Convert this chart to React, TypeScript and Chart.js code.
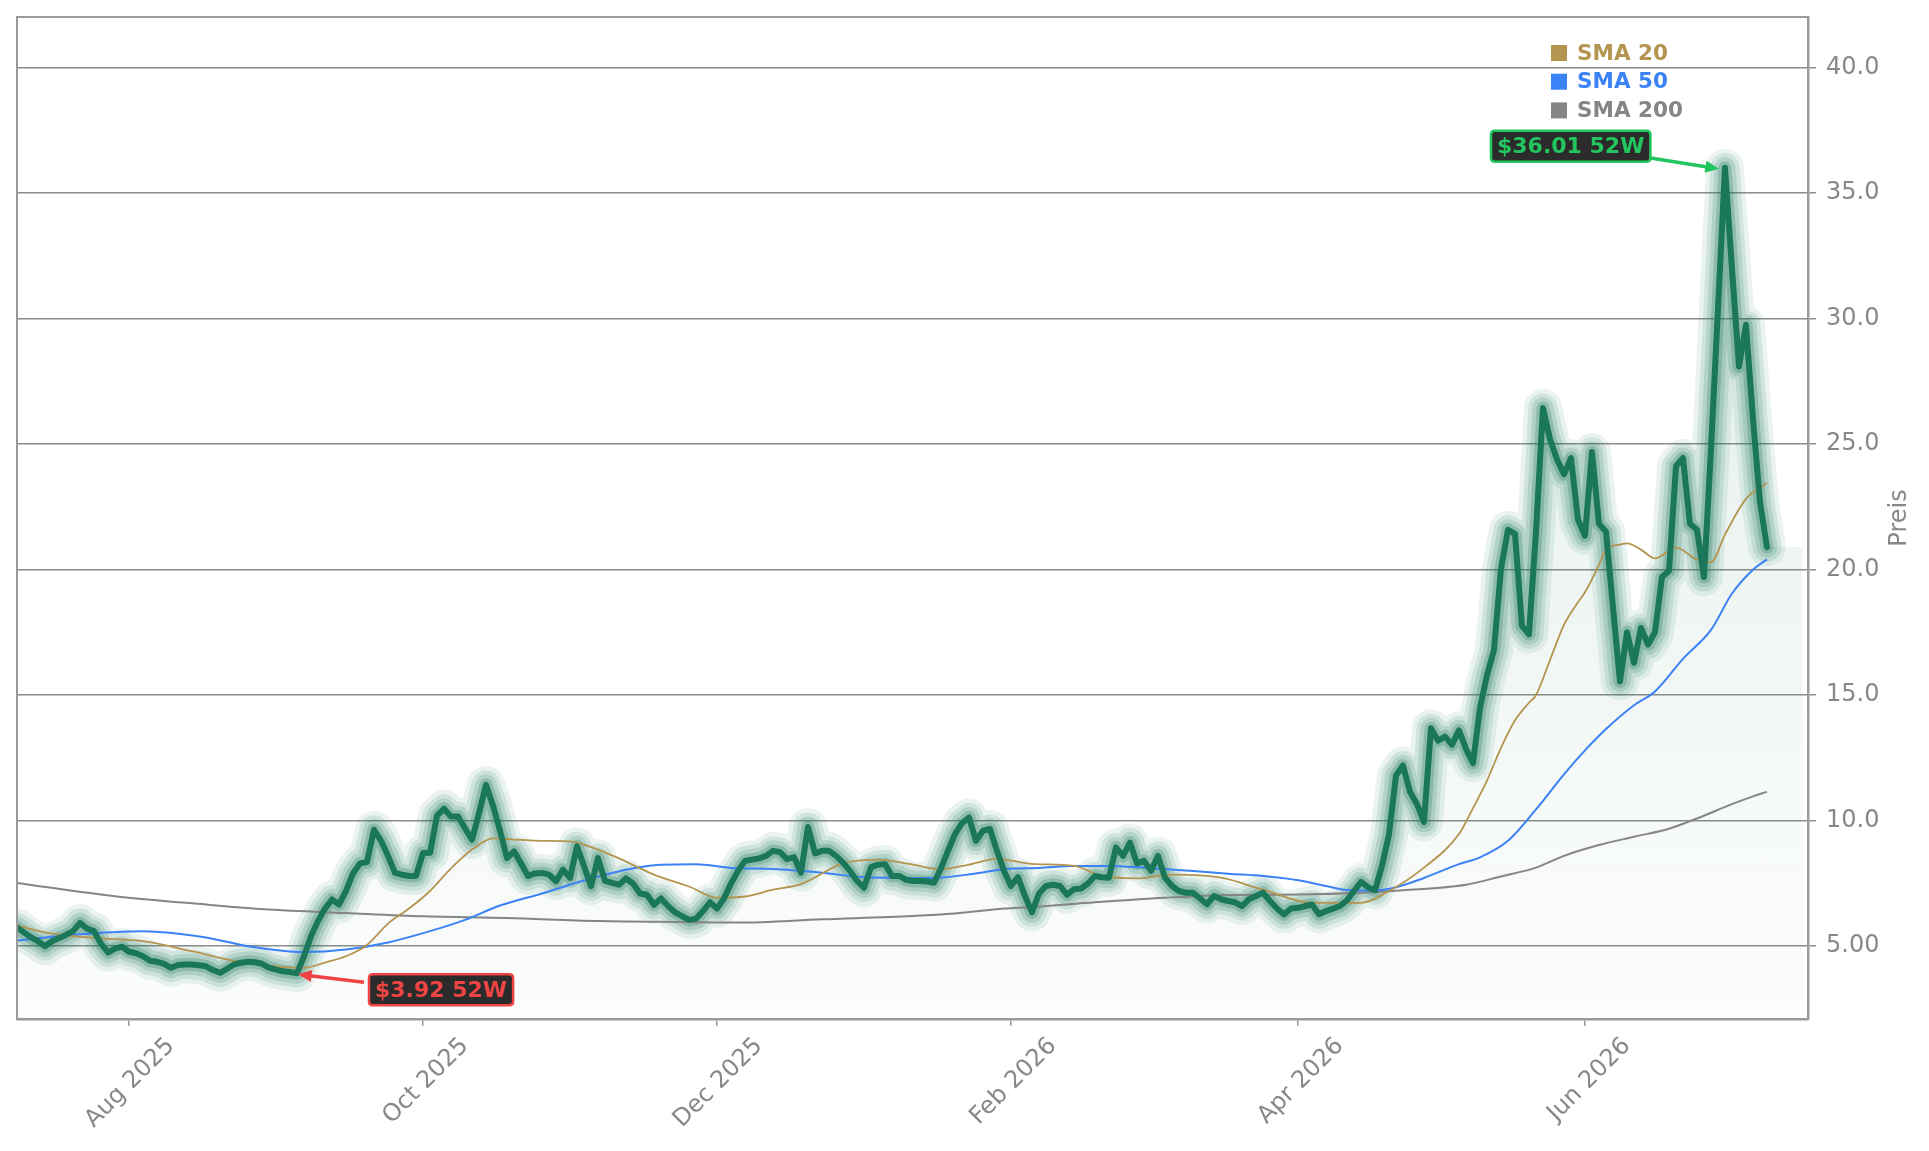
import React, { useEffect, useRef } from 'react';
import { Chart, registerables } from 'chart.js';

Chart.register(...registerables);

// ---------- DATA ----------
// Daily closing prices, one per trading day (Jul 10 2025 .. Jul 9 2026), index = trading day
const priceValues: number[] = [
  5.75, 5.55, 5.35, 5.2, 5.0, 5.2, 5.33, 5.45, 5.6, 5.93,
  5.7, 5.6, 5.1, 4.75, 4.9, 4.98, 4.78, 4.72, 4.6, 4.42,
  4.38, 4.3, 4.14, 4.25, 4.27, 4.27, 4.24, 4.2, 4.05, 3.94,
  4.1, 4.27, 4.34, 4.38, 4.36, 4.3, 4.15, 4.07, 4.0, 3.97,
  3.92, 4.6, 5.4, 6.0, 6.5, 6.86, 6.66, 7.2, 7.9, 8.3,
  8.35, 9.64, 9.2, 8.6, 7.92, 7.85, 7.8, 7.8, 8.71, 8.72,
  10.2, 10.48, 10.17, 10.17, 9.7, 9.24, 10.3, 11.43, 10.6, 9.6,
  8.51, 8.78, 8.3, 7.8, 7.9, 7.92, 7.85, 7.59, 8.05, 7.72,
  8.98, 8.2, 7.39, 8.51, 7.6, 7.52, 7.45, 7.7, 7.5, 7.1,
  7.05, 6.65, 6.9, 6.6, 6.35, 6.2, 6.05, 6.1, 6.4, 6.75,
  6.5, 6.9, 7.5, 8.0, 8.4, 8.45, 8.5, 8.6, 8.8, 8.75,
  8.47, 8.55, 7.93, 9.75, 8.7, 8.8, 8.8, 8.6, 8.33, 8.0,
  7.6, 7.33, 8.15, 8.25, 8.27, 7.8, 7.8, 7.65, 7.6, 7.6,
  7.58, 7.53, 8.1, 8.8, 9.47, 9.9, 10.13, 9.2, 9.6, 9.67,
  8.8, 8.0, 7.4, 7.75, 7.0, 6.35, 7.1, 7.4, 7.45, 7.4,
  7.05, 7.27, 7.3, 7.5, 7.8, 7.75, 7.73, 8.93, 8.6, 9.13,
  8.3, 8.4, 8.0, 8.6, 7.73, 7.4, 7.2, 7.13, 7.13, 6.9,
  6.67, 7.0, 6.87, 6.8, 6.75, 6.6, 6.87, 7.0, 7.13, 6.8,
  6.5, 6.27, 6.5, 6.53, 6.6, 6.66, 6.27, 6.4, 6.5, 6.6,
  6.83, 7.2, 7.56, 7.35, 7.23, 8.2, 9.45, 11.8, 12.2, 11.15,
  10.66, 9.95, 13.68, 13.19, 13.35, 13.03, 13.6, 12.86, 12.29, 14.49,
  15.8, 16.8, 20.04, 21.59, 21.43, 17.76, 17.43, 21.51, 26.44, 25.2,
  24.4, 23.8, 24.45, 22.0, 21.35, 24.69, 21.83, 21.51, 18.5, 15.55,
  17.51, 16.29, 17.68, 17.02, 17.51, 19.71, 19.96, 24.12, 24.45, 21.83,
  21.59, 19.71, 24.8, 30.4, 36.01, 32.0, 28.1, 29.76, 26.0, 22.7,
  20.9,
];

// Moving averages (trading-day index, value)
const sma20Idx: number[] = [0, 4, 11, 18, 25, 31, 37, 41, 44, 47, 50, 53, 56, 59, 62, 65, 68, 71, 75, 79, 82, 86, 91, 96, 100, 104, 108, 112, 118, 123, 128, 132, 136, 140, 145, 151, 155, 160, 165, 172, 178, 185, 192, 196, 201, 206, 208, 210, 212, 214, 216, 217, 219, 221, 223, 224, 226, 227, 229, 230, 232, 234, 237, 240, 242, 244, 247, 250];
const sma20Vals: number[] = [5.83, 5.55, 5.33, 5.2, 4.8, 4.42, 4.2, 4.14, 4.35, 4.6, 5.05, 5.9, 6.5, 7.2, 8.1, 8.85, 9.3, 9.25, 9.2, 9.18, 8.95, 8.5, 7.85, 7.38, 6.93, 6.98, 7.25, 7.47, 8.3, 8.45, 8.25, 8.07, 8.25, 8.48, 8.28, 8.2, 7.8, 7.7, 7.85, 7.73, 7.25, 6.73, 6.73, 7.2, 8.13, 9.47, 10.5, 11.6, 12.9, 14.0, 14.7, 15.0, 16.4, 17.8, 18.7, 19.1, 20.2, 20.8, 21.0, 21.05, 20.8, 20.45, 20.88, 20.4, 20.3, 21.4, 22.82, 23.46];

const sma50Idx: number[] = [0, 8, 18, 27, 33, 41, 47, 53, 59, 64, 69, 75, 81, 87, 92, 97, 102, 108, 115, 121, 131, 137, 141, 146, 151, 156, 161, 168, 173, 178, 183, 187, 190, 194, 197, 201, 206, 209, 213, 217, 221, 224, 227, 231, 234, 238, 242, 245, 248, 250];
const sma50Vals: number[] = [5.23, 5.46, 5.6, 5.35, 5.0, 4.77, 4.87, 5.15, 5.6, 6.05, 6.62, 7.1, 7.62, 8.05, 8.25, 8.27, 8.12, 8.08, 7.93, 7.75, 7.72, 7.9, 8.07, 8.12, 8.2, 8.2, 8.13, 8.0, 7.89, 7.8, 7.63, 7.4, 7.24, 7.22, 7.35, 7.72, 8.27, 8.54, 9.2, 10.45, 11.85, 12.8, 13.65, 14.6, 15.15, 16.45, 17.6, 19.05, 20.0, 20.41];

const sma200Idx: number[] = [0, 14, 27, 36, 47, 58, 70, 83, 96, 103, 115, 128, 134, 141, 145, 154, 164, 173, 183, 192, 198, 207, 212, 217, 221, 226, 231, 236, 240, 245, 248, 250];
const sma200Vals: number[] = [7.52, 6.99, 6.66, 6.46, 6.32, 6.19, 6.12, 6.0, 5.96, 5.94, 6.07, 6.2, 6.3, 6.5, 6.56, 6.75, 6.93, 7.04, 7.06, 7.13, 7.23, 7.45, 7.78, 8.13, 8.6, 9.03, 9.36, 9.68, 10.09, 10.66, 10.97, 11.15];

// x axis: trading-day index of first session of month, and labels
const xTickIdx: number[] = [16, 58, 100, 142, 183, 224];
const xTickLabels: string[] = ['Aug 2025', 'Oct 2025', 'Dec 2025', 'Feb 2026', 'Apr 2026', 'Jun 2026'];
const yTickValues: number[] = [5, 10, 15, 20, 25, 30, 35, 40];

// 52-week extremes
const highIdx = 244;
const highValue = 36.01;
const highLabel = '$36.01 52W';
const lowIdx = 40;
const lowValue = 3.92;
const lowLabel = '$3.92 52W';

// shaded extension after the last session
const extIdx: number[] = [250, 255];
const extVals: number[] = [20.9, 20.9];

const legendNames: string[] = ['SMA 20', 'SMA 50', 'SMA 200'];

// ---------- STYLE ----------
const PRICE = '#1b7759';
const GOLD = '#b3954f';
const BLUE = '#3b82f6';
const GREY = '#858585';
const GRID = '#8c8c8c';
const AXIS = '#9a9a9a';
const TEXT = '#888888';
const FONT = 'DejaVu Sans';

const toXY = (xs: number[], ys: number[]) => xs.map((x, i) => ({ x, y: ys[i] }));
const priceXY = priceValues.map((y, x) => ({ x, y }));

function roundRect(ctx: CanvasRenderingContext2D, x: number, y: number, w: number, h: number, r: number) {
  ctx.beginPath();
  ctx.moveTo(x + r, y);
  ctx.lineTo(x + w - r, y);
  ctx.quadraticCurveTo(x + w, y, x + w, y + r);
  ctx.lineTo(x + w, y + h - r);
  ctx.quadraticCurveTo(x + w, y + h, x + w - r, y + h);
  ctx.lineTo(x + r, y + h);
  ctx.quadraticCurveTo(x, y + h, x, y + h - r);
  ctx.lineTo(x, y + r);
  ctx.quadraticCurveTo(x, y, x + r, y);
  ctx.closePath();
}

function arrow(ctx: CanvasRenderingContext2D, x1: number, y1: number, x2: number, y2: number, color: string) {
  const ang = Math.atan2(y2 - y1, x2 - x1);
  const head = 15;
  ctx.strokeStyle = color;
  ctx.fillStyle = color;
  ctx.lineWidth = 3.5;
  ctx.beginPath();
  ctx.moveTo(x1, y1);
  ctx.lineTo(x2 - head * 0.8 * Math.cos(ang), y2 - head * 0.8 * Math.sin(ang));
  ctx.stroke();
  ctx.beginPath();
  ctx.moveTo(x2, y2);
  ctx.lineTo(x2 - head * Math.cos(ang - 0.42), y2 - head * Math.sin(ang - 0.42));
  ctx.lineTo(x2 - head * Math.cos(ang + 0.42), y2 - head * Math.sin(ang + 0.42));
  ctx.closePath();
  ctx.fill();
}

function labelBox(ctx: CanvasRenderingContext2D, text: string, left: number, top: number, color: string) {
  ctx.font = `bold 22px "${FONT}"`;
  const w = ctx.measureText(text).width + 12;
  const h = 31;
  roundRect(ctx, left, top, w, h, 4);
  ctx.fillStyle = '#2b2b2b';
  ctx.fill();
  ctx.strokeStyle = color;
  ctx.lineWidth = 2.5;
  ctx.stroke();
  ctx.fillStyle = color;
  ctx.textAlign = 'left';
  ctx.textBaseline = 'middle';
  ctx.fillText(text, left + 6, top + h / 2 + 1);
  return w;
}

const overlayPlugin = {
  id: 'overlay',
  afterDraw(chart: any) {
    const { ctx, chartArea: ca, scales } = chart;
    const xs = scales.x;
    const ys = scales.y;
    ctx.save();
    // frame (top + left)
    ctx.strokeStyle = AXIS;
    ctx.lineWidth = 2;
    ctx.beginPath();
    ctx.moveTo(ca.left, ca.bottom);
    ctx.lineTo(ca.left, ca.top);
    ctx.lineTo(ca.right, ca.top);
    ctx.stroke();

    // legend
    const colors = [GOLD, BLUE, GREY];
    ctx.font = `bold 21.5px "${FONT}"`;
    ctx.textAlign = 'left';
    ctx.textBaseline = 'middle';
    legendNames.forEach((name, i) => {
      const cy = ca.top + 36 + i * 28.7;
      ctx.fillStyle = colors[i];
      ctx.fillRect(ca.right - 257, cy - 8, 16, 16);
      ctx.fillText(name, ca.right - 231, cy + 1);
    });

    // y title
    ctx.save();
    ctx.translate(1900, (ca.top + ca.bottom) / 2);
    ctx.rotate(-Math.PI / 2);
    ctx.font = `24px "${FONT}"`;
    ctx.fillStyle = TEXT;
    ctx.textAlign = 'center';
    ctx.textBaseline = 'middle';
    ctx.fillText('Preis', 0, 0);
    ctx.restore();

    // 52W high
    const hx = xs.getPixelForValue(highIdx);
    const hy = ys.getPixelForValue(highValue);
    labelBox(ctx, highLabel, hx - 234, hy - 37, '#22c55e');
    arrow(ctx, hx - 76, hy - 10, hx - 6, hy + 1, '#22c55e');

    // 52W low
    const lx = xs.getPixelForValue(lowIdx);
    const ly = ys.getPixelForValue(lowValue);
    labelBox(ctx, lowLabel, lx + 72, ly + 1, '#ef4444');
    arrow(ctx, lx + 67, ly + 9, lx + 1, ly + 1, '#ef4444');
    ctx.restore();
  },
};

function fillGradient(ctx: any) {
  const chart = ctx.chart;
  const ca = chart.chartArea;
  if (!ca) return 'rgba(27,119,89,0.05)';
  const g = chart.ctx.createLinearGradient(0, ca.top, 0, ca.bottom);
  g.addColorStop(0, 'rgba(27,119,89,0.16)');
  g.addColorStop(0.5, 'rgba(27,119,89,0.08)');
  g.addColorStop(1, 'rgba(27,119,89,0.015)');
  return g;
}

export default function App() {
  const ref = useRef<HTMLCanvasElement | null>(null);

  useEffect(() => {
    if (!ref.current) return;
    const glow = [
      { w: 38, a: 0.09 },
      { w: 29, a: 0.12 },
      { w: 21, a: 0.16 },
      { w: 13, a: 0.25 },
    ];
    const datasets: any[] = [
      {
        label: 'Price',
        data: priceXY,
        borderColor: PRICE,
        borderWidth: 6,
        pointRadius: 0,
        fill: false,
        order: 0,
        clip: 0,
        borderJoinStyle: 'round',
        borderCapStyle: 'round',
      },
      {
        label: 'SMA 20', data: toXY(sma20Idx, sma20Vals), borderColor: GOLD, borderWidth: 1.8,
        pointRadius: 0, fill: false, order: 1, cubicInterpolationMode: 'monotone', clip: 0,
      },
      {
        label: 'SMA 50', data: toXY(sma50Idx, sma50Vals), borderColor: BLUE, borderWidth: 2,
        pointRadius: 0, fill: false, order: 2, cubicInterpolationMode: 'monotone', clip: 0,
      },
      {
        label: 'SMA 200', data: toXY(sma200Idx, sma200Vals), borderColor: GREY, borderWidth: 2,
        pointRadius: 0, fill: false, order: 3, cubicInterpolationMode: 'monotone', clip: 0,
      },
      ...glow.map((g, i) => ({
        label: 'glow' + i,
        data: priceXY,
        borderColor: `rgba(27,119,89,${g.a})`,
        borderWidth: g.w,
        pointRadius: 0,
        fill: false,
        order: 10 - i,
        clip: 0,
        borderJoinStyle: 'round',
        borderCapStyle: 'round',
      })),
      {
        label: 'area',
        data: priceXY,
        borderWidth: 0,
        borderColor: 'rgba(0,0,0,0)',
        backgroundColor: fillGradient,
        pointRadius: 0,
        fill: 'origin',
        order: 20,
        clip: 0,
      },
      {
        label: 'ext',
        data: toXY(extIdx, extVals),
        borderWidth: 0,
        borderColor: 'rgba(0,0,0,0)',
        backgroundColor: fillGradient,
        pointRadius: 0,
        fill: 'origin',
        order: 21,
        clip: 0,
      },
    ];

    const chart = new Chart(ref.current, {
      type: 'line',
      data: { datasets },
      options: {
        animation: false,
        responsive: false,
        devicePixelRatio: 1,
        layout: { padding: { left: 17, top: 17, right: 0, bottom: 0 } },
        plugins: { legend: { display: false }, tooltip: { enabled: false } },
        scales: {
          x: {
            type: 'linear',
            min: 0,
            max: 255.86,
            afterBuildTicks: (s: any) => {
              s.ticks = xTickIdx.map((v) => ({ value: v }));
            },
            afterFit: (s: any) => {
              s.height = 132;
              s.paddingLeft = 0;
              s.paddingRight = 0;
            },
            ticks: {
              autoSkip: false,
              minRotation: 45,
              maxRotation: 45,
              labelOffset: 42,
              padding: 6,
              color: TEXT,
              font: { family: FONT, size: 24 },
              callback: (v: any) => {
                const k = xTickIdx.indexOf(Number(v));
                return k >= 0 ? xTickLabels[k] : '';
              },
            },
            grid: { drawOnChartArea: false, tickLength: 7, color: AXIS, lineWidth: 1.5 },
            border: { display: true, color: AXIS, width: 2.5 },
          },
          y: {
            position: 'right',
            min: 2.1,
            max: 42.02,
            afterBuildTicks: (s: any) => {
              s.ticks = yTickValues.map((v) => ({ value: v }));
            },
            afterFit: (s: any) => {
              s.width = 121;
              s.paddingTop = 0;
              s.paddingBottom = 0;
            },
            ticks: {
              color: TEXT,
              padding: 10,
              font: { family: FONT, size: 24 },
              callback: (v: any) => Number(v).toPrecision(3),
            },
            grid: { color: GRID, lineWidth: 1.5, tickLength: 8 },
            border: { display: true, color: AXIS, width: 2.5 },
          },
        },
      },
      plugins: [overlayPlugin],
    } as any);
    return () => chart.destroy();
  }, []);

  return (
    <div style={{ position: 'absolute', left: 0, top: 0, width: 1929, height: 1151, background: '#fff' }}>
      <canvas ref={ref} width={1929} height={1151} style={{ display: 'block', width: 1929, height: 1151 }} />
    </div>
  );
}
